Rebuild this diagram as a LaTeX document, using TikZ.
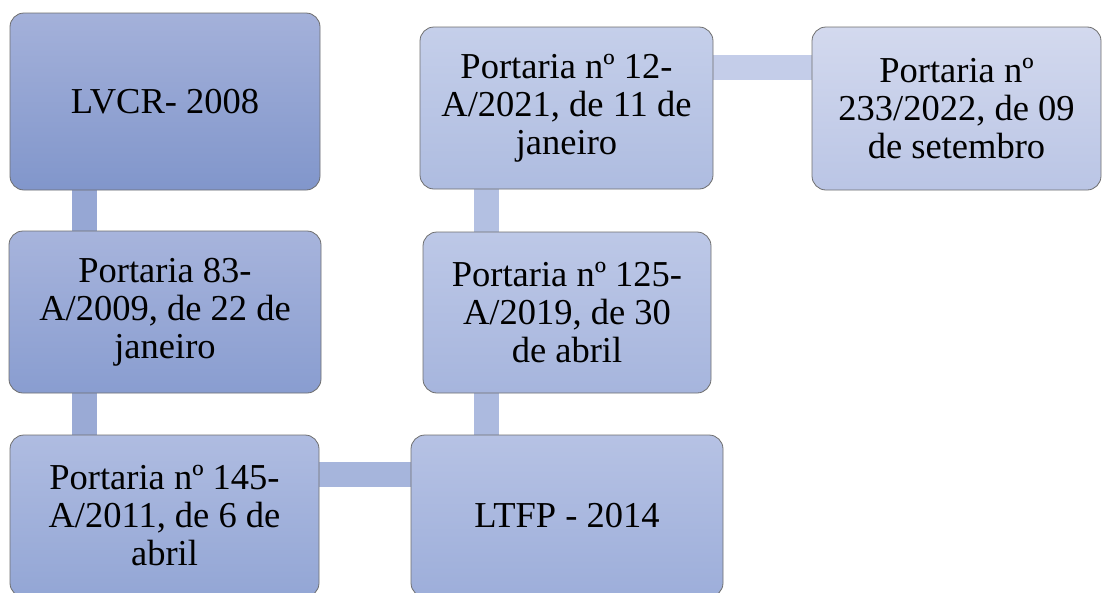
\documentclass[tikz,border=0pt]{standalone}
\usepackage{fontspec}
\setmainfont{Liberation Serif}
\usetikzlibrary{calc}
\usetikzlibrary{backgrounds}

\definecolor{edgegray}{HTML}{6E6E6E}
\definecolor{linkA}{RGB}{150,167,212}
\definecolor{linkB}{RGB}{154,170,213}
\definecolor{linkC}{RGB}{166,181,220}
\definecolor{linkD}{RGB}{172,186,223}
\definecolor{linkE}{RGB}{179,192,226}
\definecolor{linkF}{RGB}{196,205,233}

\tikzset{
    stepbox/.style={rectangle, rounded corners=14pt, draw=edgegray, line width=0.8pt,
        align=center, inner sep=0pt, font=\fontsize{36.5}{38}\selectfont},
    linkbar/.style={line width=25pt}
}

\begin{document}
\begin{tikzpicture}[x=1pt, y=-1pt]
    \useasboundingbox (0,0) rectangle (1102,592);

    \node[stepbox, minimum width=310pt, minimum height=177pt,
        top color={rgb,255:red,164;green,177;blue,218}, bottom color={rgb,255:red,129;green,150;blue,203}]
        (lvcr) at (165,101.5) {LVCR- 2008};
    \node[stepbox, minimum width=312pt, minimum height=162pt,
        top color={rgb,255:red,167;green,180;blue,220}, bottom color={rgb,255:red,137;green,157;blue,208}]
        (p2009) at (165,312) {Portaria 83-\\A/2009, de 22 de\\janeiro};
    \node[stepbox, minimum width=309pt, minimum height=162pt,
        top color={rgb,255:red,175;green,188;blue,225}, bottom color={rgb,255:red,147;green,166;blue,213}]
        (p2011) at (164.5,516) {Portaria nº 145-\\A/2011, de 6 de\\abril};
    \node[stepbox, minimum width=312pt, minimum height=162pt,
        top color={rgb,255:red,182;green,194;blue,228}, bottom color={rgb,255:red,157;green,174;blue,218}]
        (ltfp) at (567,516) {LTFP - 2014};
    \node[stepbox, minimum width=288pt, minimum height=161pt,
        top color={rgb,255:red,189;green,200;blue,231}, bottom color={rgb,255:red,166;green,181;blue,221}]
        (p2019) at (567,312.5) {Portaria nº 125-\\A/2019, de 30\\de abril};
    \node[stepbox, minimum width=293pt, minimum height=162pt,
        top color={rgb,255:red,197;green,207;blue,234}, bottom color={rgb,255:red,174;green,188;blue,224}]
        (p2021) at (566.5,108) {Portaria nº 12-\\A/2021, de 11 de\\janeiro};
    \node[stepbox, minimum width=289pt, minimum height=163pt,
        top color={rgb,255:red,211;green,217;blue,238}, bottom color={rgb,255:red,186;green,197;blue,229}]
        (p2022) at (956.5,108.5) {Portaria nº\\233/2022, de 09\\de setembro};

    % anchor points of the bars
    \coordinate (l1) at ($(lvcr.south west)+(74.5,0)$);
    \coordinate (l2) at ($(p2009.south west)+(75.5,0)$);
    \coordinate (l3) at ($(p2011.north east)+(0,40)$);
    \coordinate (l4) at ($(ltfp.north west)+(75.5,0)$);
    \coordinate (l5) at ($(p2019.north west)+(63.5,0)$);
    \coordinate (l6) at ($(p2021.north east)+(0,40.5)$);

    \begin{pgfonlayer}{background}
        \draw[linkbar, linkA] (l1) -- (l1 |- p2009.north);
        \draw[linkbar, linkB] (l2) -- (l2 |- p2011.north);
        \draw[linkbar, linkC] (l3) -- (l3 -| ltfp.west);
        \draw[linkbar, linkD] (l4) -- (l4 |- p2019.south);
        \draw[linkbar, linkE] (l5) -- (l5 |- p2021.south);
        \draw[linkbar, linkF] (l6) -- (l6 -| p2022.west);
    \end{pgfonlayer}
\end{tikzpicture}
\end{document}
